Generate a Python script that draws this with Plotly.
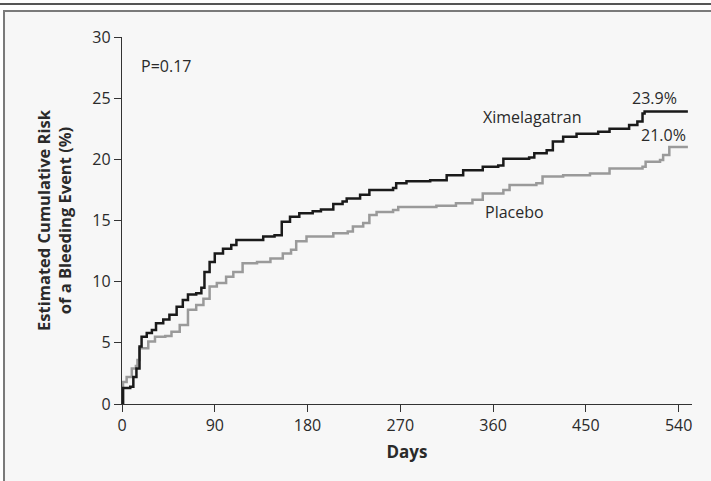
import plotly.graph_objects as go

# Ximelagatran (black)
days_xim = [0, 1, 3, 8, 11, 14, 17, 19, 24, 29, 33, 40, 46, 53, 59, 64, 72, 77, 80, 85, 90, 98,
            106, 111, 130, 137, 148, 155, 163, 172, 185, 193, 205, 214, 218, 231, 240, 263, 266,
            276, 299, 315, 331, 350, 365, 370, 395, 400, 412, 418, 428, 441, 462, 473, 492, 500,
            505, 507, 549]
risk_xim = [0, 1.3, 1.3, 1.4, 2.2, 2.9, 4.7, 5.5, 5.8, 6.05, 6.6, 6.9, 7.3, 7.95, 8.5, 8.95, 9.05,
            9.5, 10.8, 11.6, 12.3, 12.7, 13.0, 13.4, 13.4, 13.7, 13.8, 14.9, 15.3, 15.6, 15.75,
            15.9, 16.35, 16.55, 16.8, 17.1, 17.5, 17.65, 18.05, 18.2, 18.3, 18.7, 19.1, 19.4, 19.5,
            20.05, 20.15, 20.5, 20.75, 21.45, 21.85, 22.1, 22.25, 22.5, 22.8, 23.1, 23.75, 23.9, 23.9]

# Placebo (gray)
days_pla = [0, 1, 4.5, 9.5, 13.5, 15, 17, 20.5, 25.5, 32, 42, 48, 56, 64, 72, 79, 85, 92, 101, 108,
            117, 131, 144, 156, 164, 169, 179, 195, 205, 219, 224, 234, 240, 247, 263, 268, 305,
            324, 340, 350, 370, 376, 402, 408, 428, 454, 473, 505, 508, 522, 525, 531, 549]
risk_pla = [0, 1.8, 2.2, 2.9, 3.1, 3.6, 4.55, 4.55, 5.1, 5.5, 5.55, 5.9, 6.45, 7.7, 8.1, 8.6, 9.6,
            9.9, 10.4, 10.8, 11.5, 11.6, 11.9, 12.3, 12.6, 13.3, 13.7, 13.7, 13.95, 14.1, 14.5,
            14.8, 15.45, 15.7, 15.85, 16.1, 16.2, 16.4, 16.7, 17.2, 17.5, 17.9, 18.05, 18.6, 18.7,
            18.85, 19.25, 19.4, 19.8, 19.95, 20.35, 21.0, 21.0]

x_ticks = [0, 90, 180, 270, 360, 450, 540]
y_ticks = [0, 5, 10, 15, 20, 25, 30]

FONT = "Open Sans"
TXT = "#2a2a2a"

fig = go.Figure()
fig.add_trace(go.Scatter(x=days_pla, y=risk_pla, mode="lines", line_shape="hv",
                         line=dict(color="#9a9a9a", width=2.5), showlegend=False))
fig.add_trace(go.Scatter(x=days_xim, y=risk_xim, mode="lines", line_shape="hv",
                         line=dict(color="#1a1a1a", width=2.5), showlegend=False))

# background frame
fig.add_shape(type="rect", xref="paper", yref="paper", x0=-0.207, x1=1.2, y0=-0.3, y1=1.0708,
              fillcolor="#f7f7f7", line=dict(color="#7a7a7a", width=2), layer="below")
fig.add_shape(type="line", xref="paper", yref="paper", x0=-0.3, x1=1.2, y0=1.0899, y1=1.0899,
              line=dict(color="#555555", width=2))

ann = dict(showarrow=False, font=dict(family=FONT, size=16, color=TXT))
fig.add_annotation(x=16.5, y=27.6, text="P=0.17", xanchor="left", yanchor="middle", **ann)
fig.add_annotation(x=398.5, y=23.5, text="Ximelagatran", xanchor="center", yanchor="middle", **ann)
fig.add_annotation(x=350, y=15.7, text="Placebo", xanchor="left", yanchor="middle", **ann)
fig.add_annotation(x=517, y=25.0, text="23.9%", xanchor="center", yanchor="middle", **ann)
fig.add_annotation(x=525.5, y=22.0, text="21.0%", xanchor="center", yanchor="middle", **ann)

fig.update_layout(
    width=711, height=481,
    margin=dict(l=122, r=19, t=37, b=77),
    paper_bgcolor="white", plot_bgcolor="#f7f7f7",
    font=dict(family=FONT, size=16, color=TXT),
    xaxis=dict(range=[0, 553], tickvals=x_ticks, ticks="outside", ticklen=7, tickwidth=1.3,
               tickcolor="#333", showline=True, linecolor="#333", linewidth=1.3,
               showgrid=False, zeroline=False, tickfont=dict(size=16, color=TXT),
               title=dict(text="<b>Days</b>", font=dict(size=17, color=TXT), standoff=10)),
    yaxis=dict(range=[0, 30], tickvals=y_ticks, ticks="outside", ticklen=7, tickwidth=1.3,
               tickcolor="#333", showline=True, linecolor="#333", linewidth=1.3,
               showgrid=False, zeroline=False, tickfont=dict(size=16, color=TXT),
               title=dict(text="<b>Estimated Cumulative Risk<br>of a Bleeding Event (%)</b>",
                          font=dict(size=16.5, color=TXT), standoff=16)),
)

fig.write_html("out.html", config={"displayModeBar": False},
               post_script="document.body.style.margin='0';")
